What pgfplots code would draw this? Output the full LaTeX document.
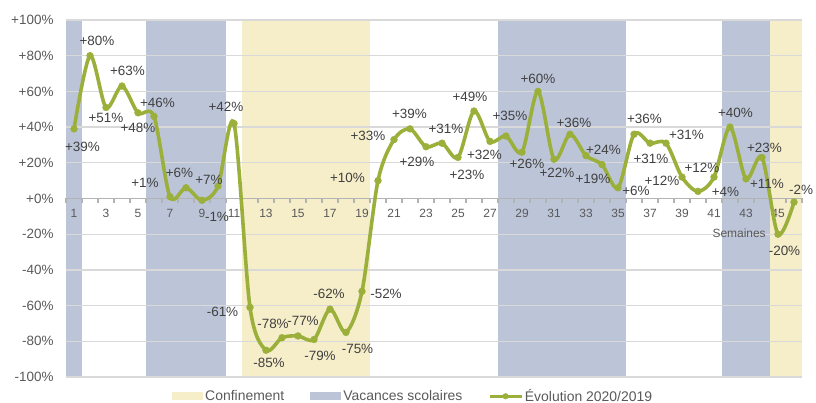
\documentclass[border=0pt]{standalone}
\usepackage{fontspec}
\setmainfont{Liberation Sans}
\usepackage{pgfplots}
\pgfplotsset{compat=1.18}
\usepackage{pgfplotstable}
\definecolor{bandyellow}{HTML}{F6EDC9}
\definecolor{bandblue}{HTML}{BCC5D8}
\definecolor{linegreen}{HTML}{9BB03B}
\definecolor{txt}{HTML}{595959}
\definecolor{lbl}{HTML}{404040}
\definecolor{gridc}{HTML}{D9D9D9}
\definecolor{axisc}{HTML}{B3B3B3}

\pgfplotsset{
  band/.style={draw=none, on layer=axis background,
    legend image code/.code={\fill[##1] (0bp,-4bp) rectangle (31bp,4bp);}},
  greenleg/.style={legend image code/.code={\draw[##1, line width=2.5bp, mark size=2.8bp, mark repeat=2, mark phase=2]
     plot coordinates {(0bp,0bp) (16bp,0bp) (32bp,0bp)};}},
}

% week, value (%), label offset dx (bp, right), ty (bp, up)
\pgfplotstableread{
w v dx ty
1 39 8.5 -18
2 80 7 14.5
3 51 0 -10.5
4 63 5.5 15.5
5 48 0 -15
6 46 3.5 14
7 1 -25 13.5
8 6 -6.5 14.5
9 -1 15 -17
10 7 -9 6.5
11 42 -8 17
12 -61 -27.5 -4
13 -85 3 -12.5
14 -78 -9 13.4
15 -77 5 15.3
16 -79 6 -16.5
17 -62 -1 15
18 -75 11.5 -16.7
19 -52 24 -2.3
20 10 -30.5 3
21 33 -26 4
22 39 -0.5 15.2
23 29 -9 -15
24 31 4 14.3
25 23 9 -17
26 49 -4 14
27 32 -5.5 -13.2
28 35 4 20.5
29 26 5 -11.5
30 60 0 12.5
31 22 3 -13.5
32 36 4 11.3
33 24 17.5 5.5
34 19 -9 -14
35 6 18 -3.2
36 36 10.5 15.6
37 31 1 -15.7
38 31 20.5 8.6
39 12 -20 -4
40 4 27.5 -0.5
41 12 -12 9.4
42 40 5.5 14
43 11 21 -5.5
44 23 2.5 9.7
45 -20 6.5 -16.5
46 -2 7 12.2
}\evol

\begin{document}
\begin{tikzpicture}
\begin{axis}[
  width=736bp, height=357bp, scale only axis,
  xmin=0.5, xmax=46.5, ymin=-100, ymax=100,
  clip=false, set layers,
  axis x line*=middle, axis y line*=left,
  y axis line style={draw=none},
  x axis line style={axisc, line width=1.3bp},
  xtick={1,3,...,45},
  minor xtick={0.5,1.5,...,46.5},
  ytick={-100,-80,...,100},
  major tick length=0pt, minor tick length=4.5bp,
  tick align=outside,
  minor tick style={axisc, line width=1.1bp},
  ymajorgrids, grid style={gridc, line width=1.3bp},
  /pgf/number format/assume math mode=true,
  yticklabel={\pgfmathprintnumber[showpos]{\tick}\%},
  yticklabel style={font=\fontsize{13.5}{16}\selectfont, text=txt, anchor=east, xshift=-9bp},
  xticklabel style={font=\fontsize{12}{14}\selectfont, text=txt, yshift=-7.5bp},
  legend columns=3,
  legend style={at={(rel axis cs:0.14,-0.054)}, anchor=west, draw=none, fill=none,
    font=\fontsize{14}{16}\selectfont, text=txt,
    /tikz/every even column/.append style={column sep=24bp}},
]
\addplot[band, fill=bandyellow] coordinates {(11.5,-100) (19.5,-100) (19.5,100) (11.5,100)};
\addlegendentry{Confinement}
\addplot[band, fill=bandblue] coordinates {(0.5,-100) (1.5,-100) (1.5,100) (0.5,100)};
\addlegendentry{Vacances scolaires}
\addplot[band, fill=bandblue, forget plot] coordinates {(5.5,-100) (10.5,-100) (10.5,100) (5.5,100)};
\addplot[band, fill=bandblue, forget plot] coordinates {(27.5,-100) (35.5,-100) (35.5,100) (27.5,100)};
\addplot[band, fill=bandblue, forget plot] coordinates {(41.5,-100) (44.5,-100) (44.5,100) (41.5,100)};
\addplot[band, fill=bandyellow, forget plot] coordinates {(44.5,-100) (46.5,-100) (46.5,100) (44.5,100)};

\addplot[linegreen, line width=3.6bp, smooth, greenleg,
  mark=*, mark size=3.4bp, mark options={solid, fill=linegreen, draw=linegreen, line width=0.5bp},
  point meta=explicit,
  nodes near coords={\pgfmathprintnumber[showpos]{\pgfplotspointmeta}\%},
  visualization depends on={\thisrow{dx} \as \dx},
  visualization depends on={\thisrow{ty} \as \ty},
  every node near coord/.append style={anchor=center, xshift=\dx bp, yshift=\ty bp,
    font=\fontsize{13.5}{16}\selectfont, text=lbl, inner sep=0pt},
] table[x=w, y=v, meta=v] {\evol};
\addlegendentry{Évolution 2020/2019}

\node[font=\fontsize{12}{14}\selectfont, text=txt] at (axis cs:42.57,-19.7) {Semaines};
\end{axis}
\pgfresetboundingbox
\path[use as bounding box] (current axis.south west) ++(-66bp,-26bp) rectangle ++(816bp,403bp);
\end{tikzpicture}
\end{document}
